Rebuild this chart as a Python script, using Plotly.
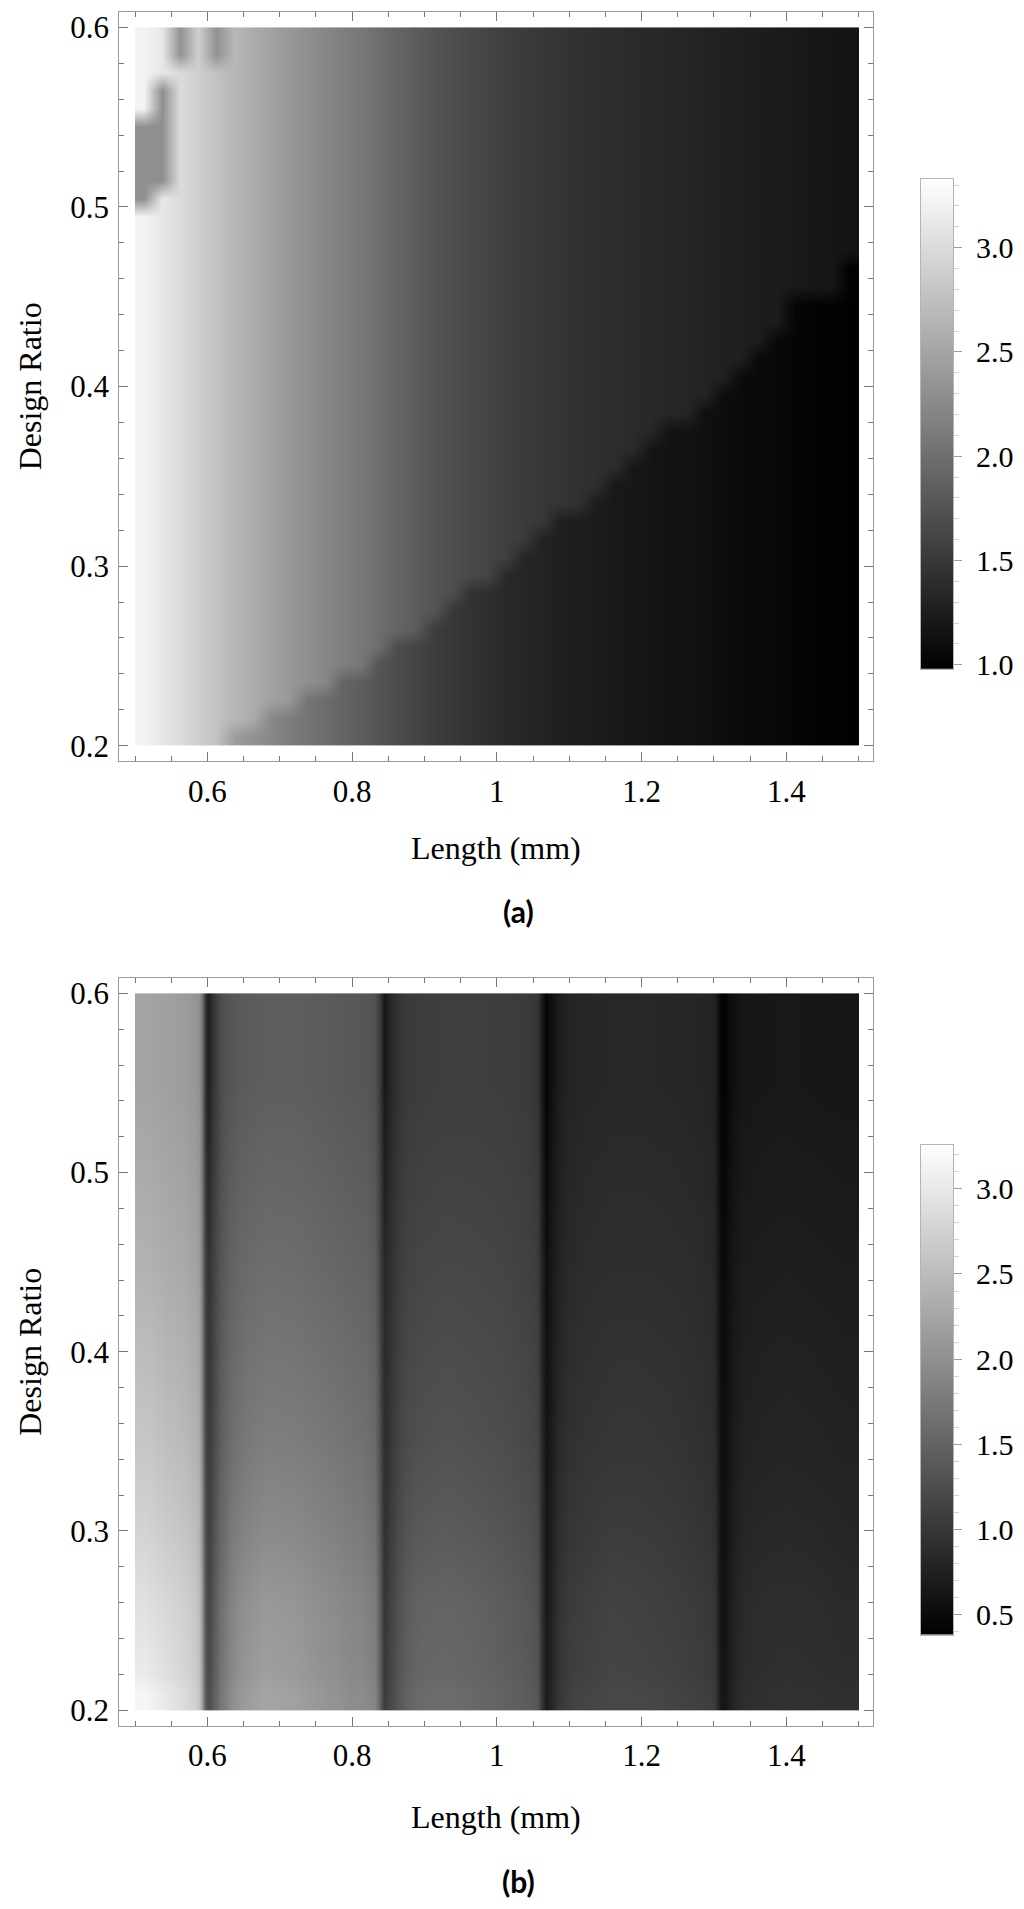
import plotly.graph_objects as go

# ---------------- panel (a) data ----------------
a_x_edges = [0.5, 0.525, 0.55, 0.575, 0.6, 0.625, 0.65, 0.675, 0.7, 0.725, 0.75, 0.775,
             0.8, 0.825, 0.85, 0.875, 0.9, 0.925, 0.95, 0.975, 1.0, 1.025, 1.05, 1.075,
             1.1, 1.125, 1.15, 1.175, 1.2, 1.225, 1.25, 1.275, 1.3, 1.325, 1.35, 1.375,
             1.4, 1.425, 1.45, 1.475, 1.5]
a_y_edges = [0.2, 0.21, 0.22, 0.23, 0.24, 0.25, 0.26, 0.27, 0.28, 0.29, 0.3, 0.31,
             0.32, 0.33, 0.34, 0.35, 0.36, 0.37, 0.38, 0.39, 0.4, 0.41, 0.42, 0.43,
             0.44, 0.45, 0.46, 0.47, 0.48, 0.49, 0.5, 0.51, 0.52, 0.53, 0.54, 0.55,
             0.56, 0.57, 0.58, 0.59, 0.6]
# value above the staircase boundary (upper-left region), per column
a_upper = [3.22, 3.11, 3.00, 2.88, 2.77, 2.67, 2.56, 2.47, 2.38, 2.30,
           2.22, 2.15, 2.08, 1.99, 1.91, 1.83, 1.76, 1.70, 1.65, 1.60,
           1.56, 1.52, 1.49, 1.46, 1.43, 1.41, 1.39, 1.37, 1.35, 1.34,
           1.32, 1.30, 1.28, 1.26, 1.24, 1.23, 1.21, 1.19, 1.18, 1.16]
# value below the staircase boundary (lower-right region), per column
a_lower = [2.89, 2.80, 2.71, 2.61, 2.52, 2.42, 2.32, 2.23, 2.13, 2.05,
           1.98, 1.90, 1.84, 1.75, 1.68, 1.61, 1.55, 1.49, 1.44, 1.40,
           1.36, 1.33, 1.30, 1.27, 1.25, 1.23, 1.21, 1.19, 1.17, 1.15,
           1.14, 1.12, 1.10, 1.08, 1.06, 1.05, 1.03, 1.01, 1.00, 0.99]
# design ratio of the boundary, per column
a_boundary = [0.19, 0.19, 0.19, 0.19, 0.19, 0.21, 0.21, 0.22, 0.22, 0.23,
              0.23, 0.24, 0.24, 0.25, 0.26, 0.26, 0.27, 0.28, 0.29, 0.29,
              0.30, 0.31, 0.32, 0.33, 0.33, 0.34, 0.35, 0.36, 0.37, 0.38,
              0.38, 0.39, 0.40, 0.41, 0.42, 0.43, 0.45, 0.45, 0.45, 0.47]
# small darker patches in the top-left corner
a_patch_x0 = [0.55, 0.60, 0.525, 0.5]
a_patch_x1 = [0.575, 0.625, 0.55, 0.525]
a_patch_y0 = [0.58, 0.58, 0.51, 0.50]
a_patch_y1 = [0.60, 0.60, 0.57, 0.55]
a_patch_val = [2.32, 2.32, 2.30, 2.30]
a_zmin, a_zmax = 0.98, 3.33

# ---------------- panel (b) data ----------------
b_x_edges = [0.5, 0.53, 0.56, 0.584, 0.592, 0.597, 0.603, 0.609, 0.618, 0.632,
             0.66, 0.7, 0.74, 0.78, 0.81, 0.828, 0.836, 0.841, 0.847, 0.853,
             0.862, 0.876, 0.91, 0.95, 0.99, 1.025, 1.052, 1.06, 1.065, 1.071,
             1.077, 1.086, 1.1, 1.14, 1.18, 1.22, 1.26, 1.296, 1.304, 1.309,
             1.315, 1.321, 1.33, 1.344, 1.38, 1.42, 1.46, 1.5]
b_y_edges = [0.2, 0.22, 0.3, 0.4, 0.5, 0.6]
b_row_021 = [3.15, 2.98, 2.82, 2.58, 1.74, 1.26, 1.37, 1.57, 1.83, 2.10,
             2.24, 2.19, 2.07, 1.98, 1.94, 1.85, 1.45, 1.06, 1.13, 1.26,
             1.42, 1.58, 1.60, 1.55, 1.49, 1.42, 1.35, 0.94, 0.70, 0.79,
             0.94, 1.06, 1.15, 1.19, 1.18, 1.15, 1.10, 1.04, 0.76, 0.61,
             0.67, 0.79, 0.88, 0.92, 0.94, 0.93, 0.91]
b_row_026 = [2.91, 2.80, 2.71, 2.50, 1.68, 1.17, 1.28, 1.49, 1.74, 1.98,
             2.10, 2.07, 1.98, 1.90, 1.85, 1.76, 1.37, 1.00, 1.06, 1.19,
             1.35, 1.49, 1.51, 1.48, 1.42, 1.36, 1.28, 0.90, 0.66, 0.74,
             0.89, 1.00, 1.08, 1.13, 1.11, 1.08, 1.04, 0.97, 0.72, 0.57,
             0.64, 0.74, 0.83, 0.88, 0.89, 0.88, 0.85]
b_row_035 = [2.62, 2.53, 2.46, 2.30, 1.51, 1.04, 1.15, 1.33, 1.53, 1.71,
             1.80, 1.79, 1.74, 1.68, 1.64, 1.55, 1.22, 0.90, 0.94, 1.06,
             1.19, 1.28, 1.31, 1.28, 1.25, 1.20, 1.14, 0.81, 0.61, 0.67,
             0.80, 0.89, 0.96, 0.99, 0.99, 0.97, 0.93, 0.88, 0.66, 0.53,
             0.58, 0.67, 0.74, 0.78, 0.79, 0.78, 0.76]
b_row_045 = [2.39, 2.32, 2.27, 2.13, 1.40, 0.94, 1.06, 1.23, 1.42, 1.55,
             1.61, 1.60, 1.55, 1.51, 1.49, 1.40, 1.10, 0.83, 0.88, 0.98,
             1.09, 1.16, 1.18, 1.17, 1.15, 1.11, 1.05, 0.75, 0.55, 0.63,
             0.73, 0.81, 0.88, 0.90, 0.90, 0.89, 0.87, 0.81, 0.62, 0.48,
             0.54, 0.62, 0.68, 0.71, 0.72, 0.71, 0.70]
b_row_055 = [2.23, 2.18, 2.13, 2.01, 1.31, 0.72, 0.92, 1.11, 1.31, 1.40,
             1.44, 1.44, 1.41, 1.37, 1.35, 1.27, 1.01, 0.65, 0.74, 0.88,
             1.00, 1.06, 1.08, 1.08, 1.07, 1.04, 0.97, 0.65, 0.44, 0.54,
             0.66, 0.75, 0.81, 0.83, 0.83, 0.82, 0.80, 0.75, 0.54, 0.40,
             0.47, 0.55, 0.62, 0.64, 0.65, 0.64, 0.63]
b_zmin, b_zmax = 0.38, 3.26

# ---------------- build tables ----------------
a_xc = [(a_x_edges[i] + a_x_edges[i + 1]) / 2 for i in range(len(a_x_edges) - 1)]
a_yc = [(a_y_edges[i] + a_y_edges[i + 1]) / 2 for i in range(len(a_y_edges) - 1)]
a_z = []
for yc in a_yc:
    row = []
    for j, xc in enumerate(a_xc):
        v = a_upper[j] if yc > a_boundary[j] else a_lower[j]
        for k in range(len(a_patch_val)):
            if a_patch_x0[k] <= xc <= a_patch_x1[k] and a_patch_y0[k] <= yc <= a_patch_y1[k]:
                v = a_patch_val[k]
        row.append(v)
    a_z.append(row)

b_z = [b_row_021, b_row_026, b_row_035, b_row_045, b_row_055]

GRAY = [[0, "#000000"], [1, "#ffffff"]]
SERIF = "Liberation Serif"
W, H = 1024, 1909

fig = go.Figure()
fig.add_trace(go.Heatmap(x=a_x_edges, y=a_y_edges, z=a_z, colorscale=GRAY,
                         zmin=a_zmin, zmax=a_zmax, zsmooth="best", showscale=False,
                         xaxis="x", yaxis="y"))
fig.add_trace(go.Heatmap(x=b_x_edges, y=b_y_edges, z=b_z, colorscale=GRAY,
                         zmin=b_zmin, zmax=b_zmax, zsmooth="best", showscale=False,
                         xaxis="x2", yaxis="y2"))
# colour bars drawn as narrow heatmaps on their own axes
fig.add_trace(go.Heatmap(x=[0], y=[a_zmin, a_zmax], z=[[a_zmin], [a_zmax]], colorscale=GRAY,
                         zmin=a_zmin, zmax=a_zmax, zsmooth="best", showscale=False,
                         xaxis="x3", yaxis="y3", hoverinfo="skip"))
fig.add_trace(go.Heatmap(x=[0], y=[b_zmin, b_zmax], z=[[b_zmin], [b_zmax]], colorscale=GRAY,
                         zmin=b_zmin, zmax=b_zmax, zsmooth="best", showscale=False,
                         xaxis="x4", yaxis="y4", hoverinfo="skip"))

LINE = "#9a9a9a"
TICK = "#777777"
tickfont = dict(family=SERIF, size=31, color="black")

def px_dom(p0, p1, total):
    return [p0 / total, p1 / total]

xdom = px_dom(119.3, 873.3, W)
a_ydom = [1 - 765.7 / H, 1 - 10.7 / H]
b_ydom = [1 - 1736.7 / H, 1 - 983.3 / H]
cb_xdom = px_dom(921, 953, W)
cba_ydom = [1 - 672.6 / H, 1 - 179 / H]
cbb_ydom = [1 - 1645 / H, 1 - 1151.5 / H]

def main_x(anchor, dom):
    return dict(domain=dom, anchor=anchor, range=[0.4783, 1.5202], showgrid=False,
                zeroline=False, showline=True, linecolor=LINE, linewidth=1,
                mirror="allticks", ticks="inside", ticklen=9, tickwidth=1,
                tickcolor=TICK, tick0=0.2, dtick=0.2, tickfont=tickfont,
                ticklabelstandoff=2,
                minor=dict(dtick=0.05, ticks="inside", ticklen=5, tickcolor=TICK,
                           tickwidth=1, showgrid=False))

def main_y(anchor, dom):
    return dict(domain=dom, anchor=anchor, range=[0.1912, 0.6088], showgrid=False,
                zeroline=False, showline=True, linecolor=LINE, linewidth=1,
                mirror="allticks", ticks="inside", ticklen=9, tickwidth=1,
                tickcolor=TICK, tick0=0.2, dtick=0.1, tickfont=tickfont,
                ticklabelstandoff=3,
                minor=dict(dtick=0.02, ticks="inside", ticklen=5, tickcolor=TICK,
                           tickwidth=1, showgrid=False))

def cb_x(anchor, dom):
    return dict(domain=dom, anchor=anchor, range=[-0.5, 0.5], showgrid=False,
                zeroline=False, showline=True, linecolor="#b4b4b4", linewidth=1,
                mirror=True, ticks="", showticklabels=False)

def cb_y(anchor, dom, r):
    return dict(domain=dom, anchor=anchor, range=r, side="right", showgrid=False,
                zeroline=False, showline=True, linecolor="#b4b4b4", linewidth=1,
                mirror=True, ticks="outside", ticklen=8, tickwidth=1, tickcolor="#a0a0a0",
                tick0=0, dtick=0.5, tickformat=".1f",
                tickfont=dict(family=SERIF, size=30, color="black"),
                ticklabelstandoff=8,
                minor=dict(dtick=0.1, ticks="outside", ticklen=5, tickcolor="#d0d0d0",
                           tickwidth=1, showgrid=False))

fig.update_layout(
    width=W, height=H, margin=dict(l=0, r=0, t=0, b=0),
    paper_bgcolor="white", plot_bgcolor="white", showlegend=False,
    xaxis=main_x("y", xdom), yaxis=main_y("x", a_ydom),
    xaxis2=main_x("y2", xdom), yaxis2=main_y("x2", b_ydom),
    xaxis3=cb_x("y3", cb_xdom), yaxis3=cb_y("x3", cba_ydom, [a_zmin, a_zmax]),
    xaxis4=cb_x("y4", cb_xdom), yaxis4=cb_y("x4", cbb_ydom, [b_zmin, b_zmax]),
)

titlefont = dict(family=SERIF, size=32, color="black")
panelfont = dict(family="Lato", size=30, color="black")
annots = [
    dict(text="Length (mm)", x=496 / W, y=1 - 853 / H, font=titlefont),
    dict(text="Length (mm)", x=496 / W, y=1 - 1828 / H, font=titlefont),
    dict(text="Design Ratio", x=30 / W, y=1 - 388 / H, font=titlefont, textangle=-90),
    dict(text="Design Ratio", x=30 / W, y=1 - 1360 / H, font=titlefont, textangle=-90),
    dict(text="<b>(a)</b>", x=518 / W, y=1 - 916 / H, font=panelfont),
    dict(text="<b>(b)</b>", x=518 / W, y=1 - 1893 / H, font=panelfont),
]
for a in annots:
    fig.add_annotation(xref="paper", yref="paper", xanchor="center", yanchor="middle",
                       showarrow=False, **a)

fig.write_html("out.html", config={"displayModeBar": False},
               post_script="document.body.style.margin='0';"
                           "document.body.style.overflow='hidden';")
